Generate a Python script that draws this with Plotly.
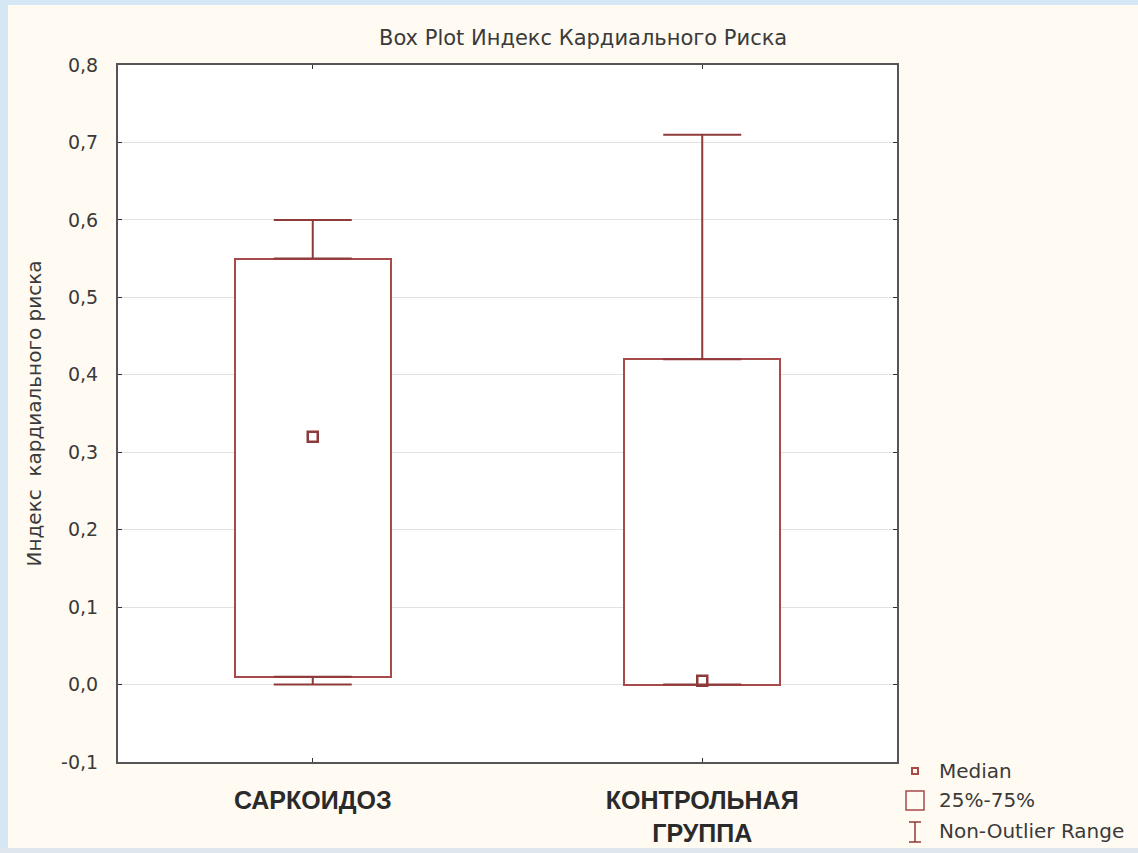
import plotly.graph_objects as go

# Group labels and box-plot statistics (index of cardiac risk)
groups = ["САРКОИДОЗ", "КОНТРОЛЬНАЯ<br>ГРУППА"]
x_pos = [0, 1]
q1 = [0.01, 0.0]
q3 = [0.55, 0.42]
medians = [0.32, 0.005]
whisker_low = [0.0, 0.0]
whisker_high = [0.60, 0.71]

y_ticks = [-0.1, 0.0, 0.1, 0.2, 0.3, 0.4, 0.5, 0.6, 0.7, 0.8]
y_tick_labels = ["-0,1", "0,0", "0,1", "0,2", "0,3", "0,4", "0,5", "0,6", "0,7", "0,8"]

BOX_COLOR = "#a84a4a"
WHISKER_COLOR = "#8e3a3a"
TEXT_COLOR = "#3a3a3a"
FONT = "DejaVu Sans, Verdana, sans-serif"
BOLD_FONT = "Liberation Sans, Arial, sans-serif"

# plot area in pixels
L, R, T, B = 118, 897, 65, 762
W, H = 1138, 853


def px_x(px):
    return (px - L) / (R - L)


def px_y(py):
    return (B - py) / (B - T)


fig = go.Figure()

# 25%-75% boxes
fig.add_trace(go.Bar(
    x=x_pos,
    y=[b - a for a, b in zip(q1, q3)],
    base=q1,
    width=0.4,
    marker=dict(color="white", line=dict(color=BOX_COLOR, width=2)),
    showlegend=False,
    hoverinfo="skip",
))

# Upper whiskers (Q3 -> max)
fig.add_trace(go.Scatter(
    x=x_pos, y=q3, mode="markers",
    marker=dict(size=1, color="rgba(0,0,0,0)"),
    error_y=dict(type="data", symmetric=False,
                 array=[h - t for h, t in zip(whisker_high, q3)],
                 arrayminus=[0, 0],
                 color=WHISKER_COLOR, thickness=2, width=39),
    showlegend=False, hoverinfo="skip",
))

# Lower whiskers (min -> Q1)
fig.add_trace(go.Scatter(
    x=x_pos, y=q1, mode="markers",
    marker=dict(size=1, color="rgba(0,0,0,0)"),
    error_y=dict(type="data", symmetric=False,
                 array=[0, 0],
                 arrayminus=[b - l for b, l in zip(q1, whisker_low)],
                 color=WHISKER_COLOR, thickness=2, width=39),
    showlegend=False, hoverinfo="skip",
))

# Medians
fig.add_trace(go.Scatter(
    x=x_pos, y=medians, mode="markers",
    marker=dict(symbol="square-open", size=10,
                color=WHISKER_COLOR, line=dict(width=2.5)),
    showlegend=False, hoverinfo="skip",
))

FRAME = "#d5e7f5"
shapes = [
    # blue frame strips around the cream page
    dict(type="rect", xref="paper", yref="paper",
         x0=px_x(0), x1=px_x(8), y0=px_y(H), y1=px_y(0),
         fillcolor=FRAME, line=dict(width=0), layer="below"),
    dict(type="rect", xref="paper", yref="paper",
         x0=px_x(0), x1=px_x(W), y0=px_y(5), y1=px_y(0),
         fillcolor=FRAME, line=dict(width=0), layer="below"),
    dict(type="rect", xref="paper", yref="paper",
         x0=px_x(0), x1=px_x(W), y0=px_y(H), y1=px_y(848),
         fillcolor="#dfe6ec", line=dict(width=0), layer="below"),
]

# Legend glyphs
lx = 915
shapes += [
    dict(type="rect", xref="paper", yref="paper",
         x0=px_x(lx - 3), x1=px_x(lx + 3), y0=px_y(774), y1=px_y(768),
         line=dict(color=BOX_COLOR, width=2)),
    dict(type="rect", xref="paper", yref="paper",
         x0=px_x(lx - 9), x1=px_x(lx + 9), y0=px_y(810), y1=px_y(791),
         line=dict(color=BOX_COLOR, width=1.5)),
    dict(type="line", xref="paper", yref="paper",
         x0=px_x(lx), x1=px_x(lx), y0=px_y(842), y1=px_y(822),
         line=dict(color=WHISKER_COLOR, width=1.5)),
    dict(type="line", xref="paper", yref="paper",
         x0=px_x(lx - 6), x1=px_x(lx + 6), y0=px_y(822), y1=px_y(822),
         line=dict(color=WHISKER_COLOR, width=1.5)),
    dict(type="line", xref="paper", yref="paper",
         x0=px_x(lx - 6), x1=px_x(lx + 6), y0=px_y(842), y1=px_y(842),
         line=dict(color=WHISKER_COLOR, width=1.5)),
]

legend_labels = ["Median", "25%-75%", "Non-Outlier Range"]
legend_y = [771, 800, 831]
annotations = [
    dict(text=t, xref="paper", yref="paper", x=px_x(lx + 22), y=px_y(py),
         xanchor="left", yanchor="middle", showarrow=False,
         font=dict(family=FONT, size=20, color=TEXT_COLOR))
    for t, py in zip(legend_labels, legend_y)
]
annotations.append(dict(
    text="Box Plot Индекс Кардиального Риска", xref="paper", yref="paper",
    x=px_x(583), y=px_y(38), xanchor="center", yanchor="middle", showarrow=False,
    font=dict(family=FONT, size=21, color=TEXT_COLOR)))

fig.update_layout(
    width=W, height=H,
    margin=dict(l=L, r=W - R, t=T, b=H - B, autoexpand=False),
    paper_bgcolor="#fffaf2",
    plot_bgcolor="white",
    showlegend=False,
    shapes=shapes,
    annotations=annotations,
    bargap=0,
)

fig.update_xaxes(
    range=[-0.5, 1.5],
    tickmode="array", tickvals=x_pos, ticktext=[f"<b>{g}</b>" for g in groups],
    tickfont=dict(family=BOLD_FONT, size=25, color="#2a2a2a"),
    ticks="inside", ticklen=4, tickcolor="#333",
    showline=True, linecolor="#555", linewidth=2, mirror="ticks",
    showgrid=False, zeroline=False, automargin=False,
    ticklabelstandoff=15,
)
fig.update_yaxes(
    range=[-0.1, 0.8],
    tickmode="array", tickvals=y_ticks, ticktext=y_tick_labels,
    tickfont=dict(family=FONT, size=19, color=TEXT_COLOR),
    ticks="inside", ticklen=4, tickcolor="#333",
    showline=True, linecolor="#555", linewidth=2, mirror="ticks",
    showgrid=True, gridcolor="#e2e2e2", gridwidth=1, zeroline=False,
    automargin=False,
    ticklabelstandoff=14,
    title=dict(text="Индекс  кардиального риска",
               font=dict(family=FONT, size=20, color=TEXT_COLOR), standoff=14),
)

fig.write_html("out.html")
